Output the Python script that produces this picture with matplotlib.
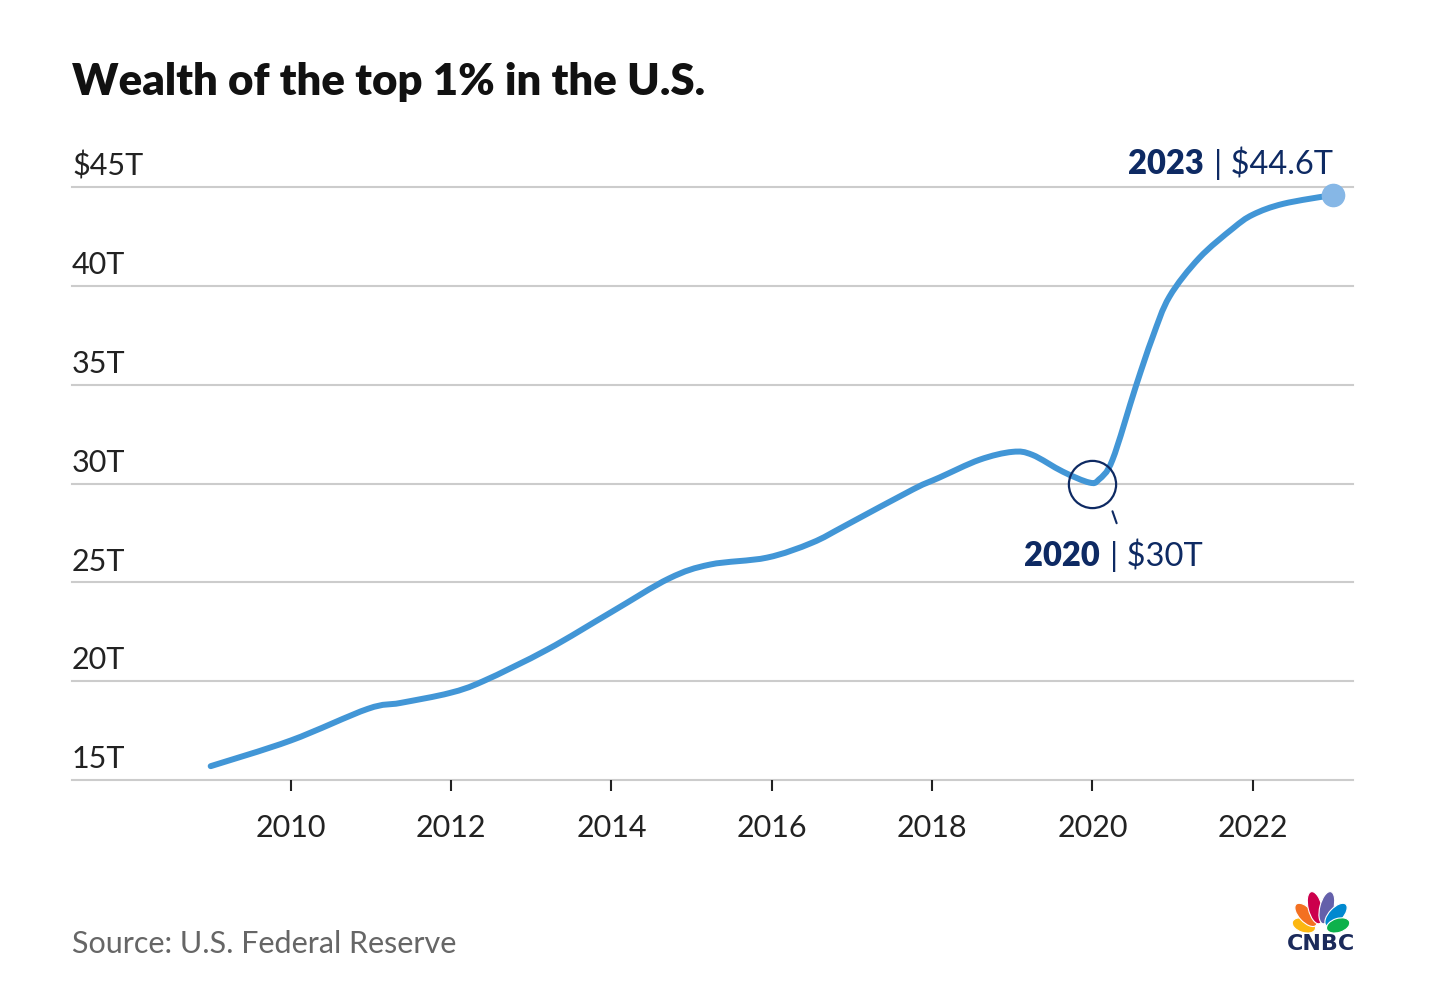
import numpy as np
import matplotlib.pyplot as plt
from matplotlib.path import Path
from matplotlib.patches import PathPatch, Ellipse
from matplotlib.offsetbox import TextArea, HPacker, AnnotationBbox
from matplotlib.transforms import offset_copy

plt.rcParams['font.family'] = ['Lato', 'DejaVu Sans']

# значения (годы, трлн $)
years = [2009.0, 2010.0, 2010.96, 2011.37, 2011.98, 2012.4, 2013.2, 2014.0,
         2014.72, 2015.23, 2015.94, 2016.5, 2016.93, 2017.76, 2018.09, 2018.59,
         2019.0, 2019.25, 2019.63, 2019.96, 2020.08, 2020.25, 2020.54, 2020.75,
         2020.96, 2021.33, 2021.75, 2022.0, 2022.38, 2023.0]
wealth = [15.7, 17.0, 18.6, 18.9, 19.4, 20.0, 21.6, 23.5,
          25.2, 25.9, 26.25, 27.0, 27.9, 29.7, 30.3, 31.2,
          31.6, 31.45, 30.6, 30.05, 30.2, 31.2, 34.9, 37.4,
          39.45, 41.4, 42.9, 43.6, 44.15, 44.6]
x_ticks = [2010, 2012, 2014, 2016, 2018, 2020, 2022]
y_ticks = [15, 20, 25, 30, 35, 40, 45]
y_labels = ['15T', '20T', '25T', '30T', '35T', '40T', '$45T']

navy = '#0e2a63'
blue = '#4296d6'
W, H = 1456, 1001

fig = plt.figure(figsize=(W / 100, H / 100), dpi=100)
ax = fig.add_axes([72 / W, 1 - 780 / H, (1353 - 72) / W, (780 - 187) / H])
ax.set_xlim(2007.27, 2023.25)
ax.set_ylim(15, 45)
for s in ax.spines.values():
    s.set_visible(False)

for y, lab in zip(y_ticks, y_labels):
    ax.axhline(y, color='#cccccc', lw=1.5, zorder=1, clip_on=False)
    ax.annotate(lab, xy=(0, y), xycoords=('axes fraction', 'data'),
                xytext=(0, 8.5), textcoords='offset points',
                ha='left', va='baseline', fontsize=22, color='#222222')
ax.set_yticks([])

ax.set_xticks(x_ticks)
ax.set_xticklabels([str(t) for t in x_ticks])
ax.tick_params(axis='x', length=8, width=1.5, color='#222222', pad=16.5,
               labelsize=22, labelcolor='#222222')

# гладкая линия (Catmull-Rom -> Bezier)
pts = np.column_stack([years, wealth])
verts = [pts[0]]
codes = [Path.MOVETO]
for i in range(len(pts) - 1):
    p0 = pts[max(i - 1, 0)]
    p1 = pts[i]
    p2 = pts[i + 1]
    p3 = pts[min(i + 2, len(pts) - 1)]
    verts += [p1 + (p2 - p0) / 6, p2 - (p3 - p1) / 6, p2]
    codes += [Path.CURVE4] * 3
ax.add_patch(PathPatch(Path(verts, codes), fill=False, edgecolor=blue,
                       lw=4.3, capstyle='round', joinstyle='round', zorder=3))

ax.plot(years[-1], wealth[-1], 'o', ms=16, color='#86b7e6', zorder=4, clip_on=False)
ax.plot(2020, 30, 'o', ms=34, mfc='none', mec=navy, mew=1.6, zorder=5)

lead = offset_copy(ax.transData, fig, x=14.4, y=-20, units='points')
ax.annotate('', xy=(2020, 30), xycoords=lead, xytext=(3, -8.6),
            textcoords='offset points',
            arrowprops=dict(arrowstyle='-', color=navy, lw=1.5, shrinkA=0, shrinkB=0))


def pair(bold, rest):
    a = TextArea(bold, textprops=dict(fontsize=23.5, fontweight='heavy', color=navy))
    b = TextArea(rest, textprops=dict(fontsize=23.5, color=navy))
    return HPacker(children=[a, b], sep=7, pad=0, align='baseline')


ax.add_artist(AnnotationBbox(pair('2023', '| $44.6T'), (years[-1], wealth[-1]),
                             xybox=(0, 11), boxcoords='offset points',
                             box_alignment=(1, 0), frameon=False, annotation_clip=False))
ax.add_artist(AnnotationBbox(pair('2020', '| $30T'), (2020, 30),
                             xybox=(-49, -64), boxcoords='offset points',
                             box_alignment=(0, 0), frameon=False, annotation_clip=False))

fig.text(72 / W, 1 - 82 / H, 'Wealth of the top 1% in the U.S.', fontsize=31.5,
         fontweight='heavy', color='#111111', va='center', ha='left')
fig.text(72 / W, 1 - 944 / H, 'Source: U.S. Federal Reserve', fontsize=22,
         color='#666666', va='center', ha='left')

# логотип CNBC
lg = fig.add_axes([1270 / W, 1 - 960 / H, 100 / W, 80 / H])
lg.set_xlim(1270, 1370)
lg.set_ylim(960, 880)
lg.axis('off')
feathers = [('#fcb711', -72, 18, 24, 14), ('#f37021', -43, 22, 29, 14),
            ('#cc004c', -14, 24, 33, 14), ('#6460aa', 14, 24, 33, 14),
            ('#0089d0', 43, 22, 29, 14), ('#0db14b', 72, 18, 24, 14)]
bx, by = 1321, 931
for col, ang, d, ln, wd in feathers:
    a = np.radians(ang)
    cx = bx + d * np.sin(a)
    cy = by - d * np.cos(a)
    lg.add_patch(Ellipse((cx, cy), wd, ln, angle=ang, facecolor=col,
                         edgecolor='white', lw=0.8))
lg.text(1321, 944, 'CNBC', fontsize=16, fontweight='bold', color='#1b2a5a',
        ha='center', va='center', family='DejaVu Sans')

fig.savefig('out.png', dpi=100)
